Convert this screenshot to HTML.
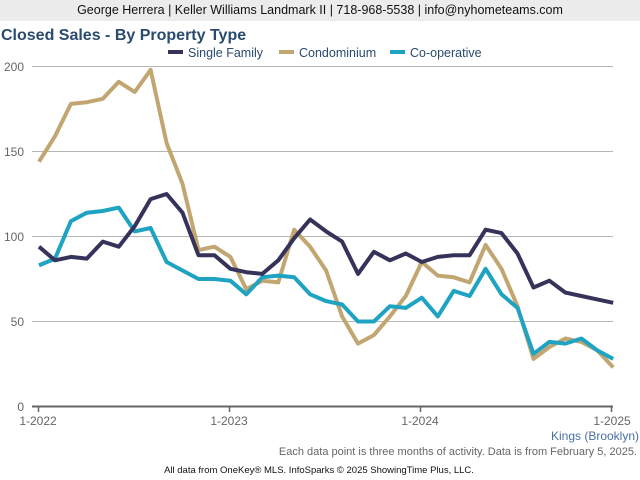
<!DOCTYPE html>
<html><head><meta charset="utf-8"><style>
body{margin:0;width:640px;height:480px;background:#fff;font-family:"Liberation Sans",sans-serif;overflow:hidden;position:relative}
.hdr{position:absolute;left:0;top:0;width:640px;height:21px;background:#ececec;text-align:center;font-size:12.5px;line-height:21px;color:#111}
</style></head><body>
<div class="hdr">George Herrera | Keller Williams Landmark II | 718-968-5538 | info@nyhometeams.com</div>
<svg id="s" width="640" height="480" style="position:absolute;left:0;top:0" font-family="Liberation Sans, sans-serif">
<text x="1" y="40" font-size="16" font-weight="bold" fill="#2a4a6e">Closed Sales - By Property Type</text>
<rect x="168" y="50" width="15" height="4" fill="#35335a"/><text x="188" y="57" font-size="12.5" fill="#2a4a6e">Single Family</text>
<rect x="279" y="50" width="15" height="4" fill="#c1a672"/><text x="299" y="57" font-size="12.5" fill="#2a4a6e">Condominium</text>
<rect x="390" y="50" width="15" height="4" fill="#1fa3c2"/><text x="410" y="57" font-size="12.5" fill="#2a4a6e">Co-operative</text>
<g stroke="#b5b5b5" stroke-width="1">
<line x1="32" y1="66.5" x2="613" y2="66.5"/><line x1="32" y1="151.5" x2="613" y2="151.5"/><line x1="32" y1="236.5" x2="613" y2="236.5"/><line x1="32" y1="321.5" x2="613" y2="321.5"/>
</g>
<line x1="32" y1="406.5" x2="613" y2="406.5" stroke="#666" stroke-width="2"/>
<g stroke="#666" stroke-width="1.5"><line x1="38.5" y1="406" x2="38.5" y2="412"/><line x1="229.5" y1="406" x2="229.5" y2="412"/><line x1="420.5" y1="406" x2="420.5" y2="412"/><line x1="611.5" y1="406" x2="611.5" y2="412"/></g>
<g font-size="12" fill="#666" text-anchor="end">
<text x="24" y="71">200</text><text x="24" y="156">150</text><text x="24" y="241">100</text><text x="24" y="326">50</text><text x="24" y="411">0</text>
</g>
<g font-size="12" fill="#666" text-anchor="middle">
<text x="38" y="425">1-2022</text><text x="229" y="425">1-2023</text><text x="420" y="425">1-2024</text><text x="612" y="425">1-2025</text>
</g>
<text x="639" y="440" font-size="12" fill="#4a6fa5" text-anchor="end">Kings (Brooklyn)</text>
<text x="637" y="455" font-size="11" fill="#666" text-anchor="end">Each data point is three months of activity. Data is from February 5, 2025.</text>
<text x="319" y="473" font-size="9.5" fill="#111" text-anchor="middle">All data from OneKey® MLS. InfoSparks © 2025 ShowingTime Plus, LLC.</text>
<g id="lines" fill="none" stroke-width="4" stroke-linejoin="round"></g>
</svg>
<script>
var sf=[94,86,88,87,97,94,106,122,125,114,89,89,81,79,78,86,99,110,103,97,78,91,86,90,85,88,89,89,104,102,90,70,74,67,65,63,61];
var co=[144,159,178,179,181,191,185,198,155,131,92,94,88,69,74,73,104,94,80,53,37,42,53,65,85,77,76,73,95,81,59,28,35,40,38,33,23];
var cp=[83,87,109,114,115,117,103,105,85,80,75,75,74,66,76,77,76,66,62,60,50,50,59,58,64,53,68,65,81,66,58,31,38,37,40,33,28];
var g=document.getElementById('lines'),ns='http://www.w3.org/2000/svg';
function add(d,c){var p=document.createElementNS(ns,'polyline');p.setAttribute('points',d.map(function(v,i){return (39+i*15.95).toFixed(1)+','+(406.5-v*1.7).toFixed(1)}).join(' '));p.setAttribute('stroke',c);g.appendChild(p);}
add(co,'#c1a672');add(cp,'#1fa3c2');add(sf,'#35335a');
</script>
</body></html>
